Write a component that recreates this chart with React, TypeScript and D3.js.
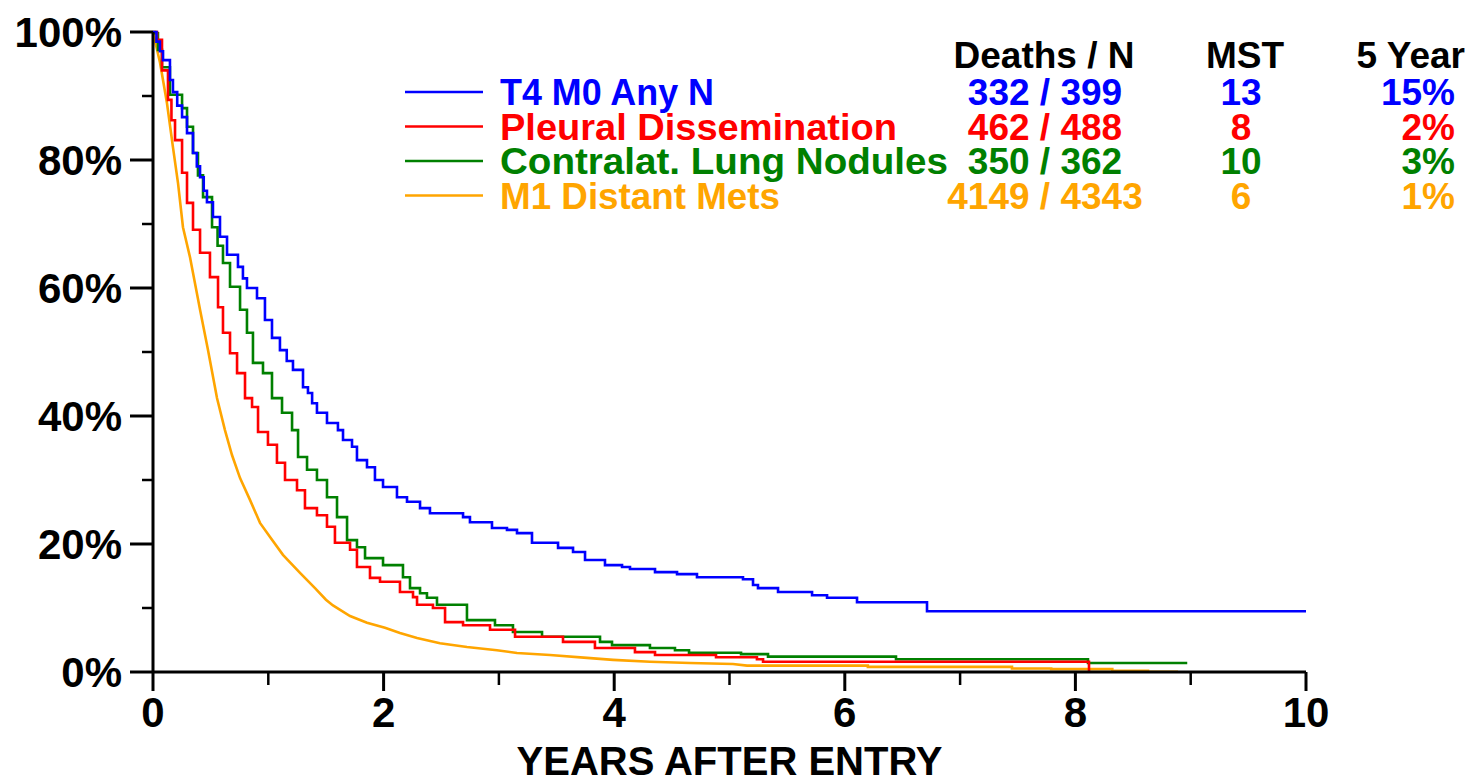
import React from "react";
import * as d3 from "d3";

// ---- data ----
const xTicks = [0, 2, 4, 6, 8, 10];
const xMinorTicks = [1, 3, 5, 7, 9];
const yTicks = [0, 20, 40, 60, 80, 100];
const yMinorTicks = [10, 30, 50, 70, 90];
const xTitle = "YEARS AFTER ENTRY";

const legendHeaders = ["Deaths / N", "MST", "5 Year"];
const seriesNames = ["T4 M0 Any N", "Pleural Dissemination", "Contralat. Lung Nodules", "M1 Distant Mets"];
const deathsN = ["332 / 399", "462 / 488", "350 / 362", "4149 / 4343"];
const mst = ["13", "8", "10", "6"];
const fiveYear = ["15%", "2%", "3%", "1%"];
const colors = ["#0000ff", "#ff0000", "#008000", "#ffa500"];

// [years, survival %]
const t4m0: [number, number][] = [
  [0, 100], [0.03, 98.5], [0.06, 97], [0.087, 95.6], [0.147, 92.5], [0.173, 90.6], [0.21, 88.5], [0.252, 86.7],
  [0.295, 84.2], [0.347, 81.1], [0.38, 79], [0.408, 77.3], [0.44, 75.2], [0.468, 73.4], [0.52, 71.1],
  [0.581, 68.0], [0.642, 65.2], [0.737, 63.3], [0.78, 61.5], [0.815, 60.0], [0.902, 58.4], [0.971, 55.0],
  [1.032, 52.2], [1.101, 50.3], [1.16, 48.6], [1.214, 47.2], [1.301, 44.5], [1.344, 43.6], [1.38, 42],
  [1.422, 40.5], [1.509, 38.9], [1.604, 37.8], [1.648, 36.25], [1.726, 35.2], [1.769, 33.1],
  [1.856, 32.0], [1.925, 30.0], [1.995, 28.9], [2.116, 27.3], [2.203, 26.6], [2.316, 25.6],
  [2.402, 24.8], [2.689, 24.2], [2.749, 23.4], [2.94, 22.5], [3.07, 22.2], [3.157, 21.7],
  [3.287, 20.2], [3.513, 19.4], [3.643, 18.75], [3.747, 17.5], [3.92, 16.7], [4.068, 16.4],
  [4.137, 16.1], [4.354, 15.6], [4.545, 15.3], [4.718, 14.8], [5.117, 14.5], [5.204, 13.6],
  [5.247, 13.1], [5.421, 12.5], [5.716, 12.0], [5.846, 11.6], [6.106, 10.9], [6.713, 9.5], [10, 9.5],
];

const pleural: [number, number][] = [
  [0, 100], [0.035, 98.8], [0.078, 94.0], [0.13, 89.4], [0.16, 86.2], [0.191, 83.1], [0.252, 78.0],
  [0.295, 73.3], [0.347, 69.1], [0.408, 65.5], [0.494, 61.7], [0.564, 57.0], [0.607, 53.0],
  [0.668, 49.8], [0.729, 46.7], [0.798, 42.8], [0.859, 41.4], [0.911, 37.5], [0.997, 35.5],
  [1.075, 32.7], [1.145, 30.0], [1.249, 28.4], [1.318, 25.6], [1.422, 24.5], [1.509, 22.7],
  [1.578, 20.2], [1.709, 19.1], [1.769, 16.4], [1.882, 14.7], [1.969, 14.1], [2.142, 12.5],
  [2.255, 11.7], [2.29, 10.5], [2.428, 10.0], [2.533, 7.8], [2.689, 7.3], [2.923, 6.6],
  [3.14, 5.5], [3.556, 4.7], [3.833, 3.75], [4.18, 3.1], [4.354, 2.65], [4.883, 2.3],
  [5.238, 2.0], [5.291, 1.6], [8.118, 0],
];

const contralat: [number, number][] = [
  [0, 100], [0.017, 99.8], [0.043, 97.2], [0.078, 94.5], [0.147, 90.2], [0.252, 88.1], [0.295, 85.2],
  [0.347, 81.1], [0.39, 77.6], [0.434, 74.2], [0.512, 69.5], [0.56, 66.6], [0.607, 63.9], [0.668, 60.2],
  [0.755, 56.6], [0.815, 53.0], [0.867, 48.3], [0.954, 46.7], [1.032, 42.8], [1.119, 40.5],
  [1.206, 37.8], [1.258, 33.6], [1.336, 31.6], [1.422, 30.0], [1.509, 27.3], [1.596, 24.2],
  [1.683, 20.6], [1.769, 19.5], [1.839, 17.8], [1.995, 16.7], [2.168, 14.8], [2.229, 13.1],
  [2.316, 12.3], [2.376, 11.6], [2.463, 10.5], [2.723, 8.1], [2.966, 7.3], [3.122, 6.25],
  [3.374, 5.5], [3.877, 4.7], [3.981, 4.2], [4.31, 3.75], [4.527, 3.4], [4.649, 3.0],
  [5.1, 2.8], [5.334, 2.4], [6.444, 2.0], [8.109, 1.4], [8.97, 1.4],
];

const m1: [number, number][] = [
  [0, 100], [0.061, 95.2], [0.121, 88.9], [0.173, 82.0], [0.217, 76.4], [0.26, 69.5], [0.321, 64.8],
  [0.408, 56.6], [0.477, 50.3], [0.555, 42.8], [0.624, 37.8], [0.685, 33.9], [0.755, 30.3],
  [0.841, 26.9], [0.928, 23.3], [1.015, 21.1], [1.127, 18.3], [1.275, 15.5], [1.405, 13.1],
  [1.5, 11.3], [1.561, 10.4], [1.709, 8.75], [1.856, 7.7], [2.012, 6.9], [2.142, 6.1], [2.29, 5.3],
  [2.489, 4.5], [2.723, 3.9], [2.983, 3.4], [3.157, 2.97], [3.443, 2.65], [3.764, 2.2],
  [3.99, 1.9], [4.31, 1.6], [4.657, 1.4], [5.03, 1.25], [5.152, 1.0], [6.2, 1.0], [6.2, 0.8],
  [7.45, 0.8], [7.45, 0.55], [7.79, 0.55], [7.79, 0.45], [8.32, 0.45], [8.32, 0.2], [8.63, 0.2],
  [8.63, 0.05], [8.89, 0.05],
];

const seriesData = [t4m0, pleural, contralat, m1];
const seriesCurves = [d3.curveStepAfter, d3.curveStepAfter, d3.curveStepAfter, d3.curveLinear];

// ---- layout ----
const W = 1467;
const H = 780;
const X0 = 153, X1 = 1306, Y0 = 672, Y1 = 32;
const FONT = "'Liberation Sans', Arial, Helvetica, sans-serif";
const nameWidths = [214, 397, 448, 280];

export default function App() {
  const x = d3.scaleLinear().domain([0, 10]).range([X0, X1]);
  const y = d3.scaleLinear().domain([0, 100]).range([Y0, Y1]);

  const legendY0 = 105;
  const legendDY = 34.5;

  return (
    <svg
      width={W}
      height={H}
      viewBox={`0 0 ${W} ${H}`}
      style={{ position: "absolute", left: 0, top: 0, background: "#fff" }}
      fontFamily={FONT}
      fontWeight="bold"
    >
      <rect x={0} y={0} width={W} height={H} fill="#fff" />
      {/* curves (drawn behind axes) */}
      {seriesData
        .map((data, i) => {
          const line = d3
            .line<[number, number]>()
            .x((d) => x(d[0]))
            .y((d) => y(d[1]))
            .curve(seriesCurves[i]);
          return (
            <path key={i} d={line(data) || ""} fill="none" stroke={colors[i]} strokeWidth={2.6} strokeLinejoin="miter" />
          );
        })
        .reverse()}

      {/* axes */}
      <line x1={X0} x2={X0} y1={Y1} y2={Y0} stroke="#000" strokeWidth={3} />
      <line x1={X0} x2={X1} y1={Y0} y2={Y0} stroke="#000" strokeWidth={3} />
      {yTicks.map((t) => (
        <g key={"yt" + t}>
          <line x1={X0 - 23} x2={X0} y1={y(t)} y2={y(t)} stroke="#000" strokeWidth={3} />
          <text x={122} y={y(t) + 15} textAnchor="end" fontSize={42}>
            {t + "%"}
          </text>
        </g>
      ))}
      {yMinorTicks.map((t) => (
        <line key={"ym" + t} x1={X0 - 11} x2={X0} y1={y(t)} y2={y(t)} stroke="#000" strokeWidth={2.5} />
      ))}
      {xTicks.map((t) => (
        <g key={"xt" + t}>
          <line x1={x(t)} x2={x(t)} y1={Y0} y2={Y0 + 19} stroke="#000" strokeWidth={3} />
          <text x={x(t)} y={727} textAnchor="middle" fontSize={42}>
            {t}
          </text>
        </g>
      ))}
      {xMinorTicks.map((t) => (
        <line key={"xm" + t} x1={x(t)} x2={x(t)} y1={Y0} y2={Y0 + 13} stroke="#000" strokeWidth={2.5} />
      ))}
      <text x={(X0 + X1) / 2} y={775} textAnchor="middle" fontSize={40}>
        {xTitle}
      </text>

      {/* legend */}
      <text x={1044} y={68} textAnchor="middle" fontSize={37}>
        {legendHeaders[0]}
      </text>
      <text x={1245} y={68} textAnchor="middle" fontSize={37}>
        {legendHeaders[1]}
      </text>
      <text x={1465} y={68} textAnchor="end" fontSize={37}>
        {legendHeaders[2]}
      </text>
      {seriesNames.map((name, i) => {
        const by = legendY0 + i * legendDY;
        return (
          <g key={"lg" + i} fill={colors[i]}>
            <line x1={405} x2={483} y1={by - 13} y2={by - 13} stroke={colors[i]} strokeWidth={2.6} />
            <text x={500} y={by} fontSize={37} textLength={nameWidths[i]} lengthAdjust="spacingAndGlyphs">
              {name}
            </text>
            <text x={1045} y={by} textAnchor="middle" fontSize={37}>
              {deathsN[i]}
            </text>
            <text x={1241} y={by} textAnchor="middle" fontSize={37}>
              {mst[i]}
            </text>
            <text x={1455} y={by} textAnchor="end" fontSize={37}>
              {fiveYear[i]}
            </text>
          </g>
        );
      })}
    </svg>
  );
}
